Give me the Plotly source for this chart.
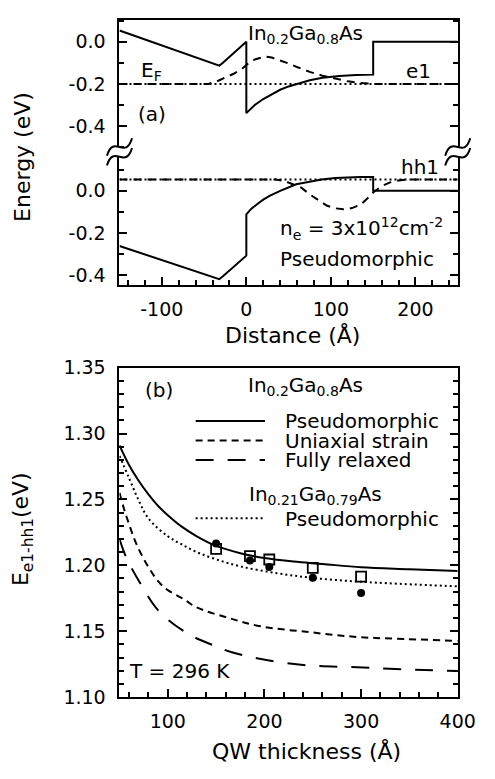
import plotly.graph_objects as go

W, H = 495, 779
FONT = "DejaVu Sans"

# ---------------- Panel (a) data ----------------
cb_x = [-150, -36, -32, -28, 0, 0, 5, 10, 20, 30, 40, 50, 60, 75, 90, 110, 130, 150, 150, 250]
cb_y = [0.054, -0.106, -0.113, -0.101, 0.0, -0.339, -0.318, -0.300, -0.272, -0.248, -0.228,
        -0.212, -0.199, -0.183, -0.171, -0.162, -0.158, -0.156, 0.0, 0.0]
e1_x = [-150, -45, -36, -25, -15, -5, 0, 10, 22, 30, 40, 50, 60, 75, 90, 105, 120, 135, 150, 250]
e1_y = [-0.2, -0.2, -0.19, -0.17, -0.152, -0.128, -0.11, -0.084, -0.07, -0.075, -0.088,
        -0.103, -0.12, -0.143, -0.161, -0.175, -0.188, -0.196, -0.2, -0.2]
ef_x = [-150, 250]
ef_y = [-0.2, -0.2]

vb_x = [-150, -36, -32, -28, 0, 0, 6, 13, 20, 28, 40, 59, 75, 89, 105, 119, 135, 150, 150, 250]
vb_y = [-0.262, -0.415, -0.42, -0.407, -0.308, -0.112, -0.085, -0.063, -0.042, -0.023, 0.0,
        0.031, 0.045, 0.054, 0.061, 0.065, 0.066, 0.066, 0.0, 0.0]
hh1_x = [-150, 35, 45, 55, 65, 75, 85, 95, 105, 115, 125, 135, 145, 150, 160, 170, 180, 190, 250]
hh1_y = [0.054, 0.054, 0.047, 0.032, 0.015, -0.017, -0.045, -0.07, -0.083, -0.088, -0.082,
         -0.066, -0.03, -0.008, 0.022, 0.04, 0.049, 0.054, 0.054]
hl_x = [-150, 250]
hl_y = [0.054, 0.054]

# ---------------- Panel (b) data ----------------
ps_x = [50, 60, 70, 80, 90, 100, 114, 130, 150, 176, 200, 230, 260, 300, 350, 400]
ps_y = [1.291, 1.276, 1.264, 1.2538, 1.245, 1.238, 1.2295, 1.222, 1.2147, 1.209, 1.2055,
        1.2028, 1.2010, 1.1985, 1.197, 1.1956]
ua_x = [50, 55, 60, 67, 80, 95, 117, 130, 163, 196, 246, 296, 345, 400]
ua_y = [1.255, 1.242, 1.231, 1.217, 1.1985, 1.184, 1.174, 1.168, 1.160, 1.1537, 1.1493,
        1.1456, 1.1441, 1.1426]
fr_x = [50, 57, 71, 91, 121, 148, 162, 195, 246, 296, 345, 400]
fr_y = [1.220, 1.206, 1.187, 1.165, 1.148, 1.139, 1.135, 1.129, 1.124, 1.1227, 1.121, 1.1198]
p21_x = [50, 60, 70, 80, 100, 114, 130, 150, 176, 213, 250, 300, 400]
p21_y = [1.283, 1.266, 1.249, 1.2355, 1.222, 1.216, 1.210, 1.2045, 1.199, 1.194, 1.1904,
         1.1875, 1.184]

sq_x = [150, 185, 205, 250, 300]
sq_y = [1.2125, 1.2069, 1.2044, 1.198, 1.1914]
dot_x = [150, 185, 205, 250, 300]
dot_y = [1.2165, 1.2037, 1.1988, 1.1906, 1.179]


def PX(x):
    return x / W


def PY(y):
    return 1 - y / H


fig = go.Figure()
LW = 2
K = "black"

fig.add_trace(go.Scatter(x=cb_x, y=cb_y, xaxis="x2", yaxis="y", mode="lines",
                         line=dict(color=K, width=LW)))
fig.add_trace(go.Scatter(x=ef_x, y=ef_y, xaxis="x2", yaxis="y", mode="lines",
                         line=dict(color=K, width=LW, dash="2px,3px")))
fig.add_trace(go.Scatter(x=e1_x, y=e1_y, xaxis="x2", yaxis="y", mode="lines",
                         line=dict(color=K, width=LW, dash="8px,6px")))

fig.add_trace(go.Scatter(x=vb_x, y=vb_y, xaxis="x", yaxis="y2", mode="lines",
                         line=dict(color=K, width=LW)))
fig.add_trace(go.Scatter(x=hl_x, y=hl_y, xaxis="x", yaxis="y2", mode="lines",
                         line=dict(color=K, width=LW, dash="2px,3px")))
fig.add_trace(go.Scatter(x=hh1_x, y=hh1_y, xaxis="x", yaxis="y2", mode="lines",
                         line=dict(color=K, width=LW, dash="8px,6px")))

fig.add_trace(go.Scatter(x=ps_x, y=ps_y, xaxis="x3", yaxis="y3", mode="lines",
                         line=dict(color=K, width=LW, shape="spline")))
fig.add_trace(go.Scatter(x=ua_x, y=ua_y, xaxis="x3", yaxis="y3", mode="lines",
                         line=dict(color=K, width=LW, dash="7px,5px", shape="spline")))
fig.add_trace(go.Scatter(x=fr_x, y=fr_y, xaxis="x3", yaxis="y3", mode="lines",
                         line=dict(color=K, width=LW, dash="18px,14px", shape="spline")))
fig.add_trace(go.Scatter(x=p21_x, y=p21_y, xaxis="x3", yaxis="y3", mode="lines",
                         line=dict(color=K, width=LW, dash="2px,3px", shape="spline")))
fig.add_trace(go.Scatter(x=sq_x, y=sq_y, xaxis="x3", yaxis="y3", mode="markers",
                         marker=dict(symbol="square-open", size=10, color=K, line=dict(width=1.8))))
fig.add_trace(go.Scatter(x=dot_x, y=dot_y, xaxis="x3", yaxis="y3", mode="markers",
                         marker=dict(symbol="circle", size=8, color=K)))

XD = [PX(124), PX(475)]
tickfont = dict(family=FONT, size=19, color=K)
common = dict(showline=True, linewidth=2, linecolor=K, ticks="inside", tickcolor=K,
              tickwidth=2, ticklen=8, tickfont=tickfont, showgrid=False, zeroline=False)
minor_t = dict(ticks="inside", ticklen=5, tickcolor=K, tickwidth=2)

fig.update_layout(
    width=W, height=H, margin=dict(l=0, r=0, t=0, b=0),
    paper_bgcolor="white", plot_bgcolor="white", showlegend=False,
    font=dict(family=FONT, color=K),
    xaxis=dict(domain=XD, anchor="y2", range=[-150, 250],
               tickvals=[-100, 0, 100, 200], ticktext=["-100", "0", "100", "200"],
               minor=dict(dtick=20, tick0=0, **minor_t),
               ticklabelstandoff=6, mirror=False, **common),
    xaxis2=dict(domain=XD, anchor="y", matches="x", side="top", showline=True, linewidth=2,
                linecolor=K, ticks="", showticklabels=False, showgrid=False, zeroline=False),
    yaxis=dict(domain=[PY(143), PY(9)], anchor="x2", range=[-0.514, 0.1048],
               tickvals=[0, -0.2, -0.4], ticktext=["0.0", "-0.2", "-0.4"],
               minor=dict(dtick=0.1, tick0=0, **minor_t),
               ticklabelstandoff=8, mirror="ticks", **common),
    yaxis2=dict(domain=[PY(282), PY(143)], anchor="x", range=[-0.4476, 0.194],
                tickvals=[0, -0.2, -0.4], ticktext=["0.0", "-0.2", "-0.4"],
                minor=dict(dtick=0.1, tick0=0, **minor_t),
                ticklabelstandoff=8, mirror="ticks", **common),
    xaxis3=dict(domain=XD, anchor="y3", range=[50, 400],
                tickvals=[100, 200, 300, 400], ticktext=["100", "200", "300", "400"],
                minor=dict(dtick=20, tick0=0, **minor_t),
                ticklabelstandoff=6, mirror=True, **common),
    yaxis3=dict(domain=[PY(706), PY(367)], anchor="x3", range=[1.10, 1.35],
                tickvals=[1.10, 1.15, 1.20, 1.25, 1.30, 1.35],
                ticktext=["1.10", "1.15", "1.20", "1.25", "1.30", "1.35"],
                minor=dict(dtick=0.01, tick0=0, **minor_t),
                ticklabelstandoff=8, mirror="ticks", **common),
)

ann = []


def text(s, x, y, size=20, xa="left", ya="middle", angle=0):
    ann.append(dict(text=s, x=PX(x), y=PY(y), xref="paper", yref="paper", showarrow=False,
                    xanchor=xa, yanchor=ya, textangle=angle,
                    font=dict(family=FONT, size=size, color=K)))


# panel (a) labels
text("In<sub>0.2</sub>Ga<sub>0.8</sub>As", 255, 8, ya="top")
text("E<sub>F</sub>", 144, 62)
text("e1", 419, 62)
text("(a)", 141, 106)
text("hh1", 414, 161)
text("n<sub>e</sub> = 3x10<sup>12</sup>cm<sup>-2</sup>", 288, 224)
text("Pseudomorphic", 288, 255)
text("Energy (eV)", 24, 150, size=22, xa="center", angle=-90)
text("Distance (Å)", 304, 333, size=22, xa="center")

# panel (b) labels
text("(b)", 148, 390)
text("In<sub>0.2</sub>Ga<sub>0.8</sub>As", 255, 386)
text("Pseudomorphic", 294, 422)
text("Uniaxial strain", 294, 442)
text("Fully relaxed", 294, 462)
text("In<sub>0.21</sub>Ga<sub>0.79</sub>As", 256, 498)
text("Pseudomorphic", 294, 523)
text("T = 296 K", 132, 679)
text("E<sub>e1-hh1</sub>(eV)", 24, 533, size=22, xa="center", angle=-90)
text("QW thickness (Å)", 318, 762, size=22, xa="center")

shapes = []
# legend samples
for yy, dash in [(422, "solid"), (442, "7px,5px"), (462, "18px,14px"), (522, "2px,3px")]:
    shapes.append(dict(type="line", xref="paper", yref="paper", x0=PX(203), x1=PX(275),
                       y0=PY(yy), y1=PY(yy), line=dict(color=K, width=LW, dash=dash)))


# axis-break squiggles
def wave_pts(cx, cy, off):
    return [(cx - 13, cy + 9 + off), (cx - 6, cy - 14 + off), (cx + 6, cy + 14 + off),
            (cx + 13, cy - 9 + off)]


def path_of(pts, rev=False):
    p = [(PX(a), PY(b)) for a, b in pts]
    if rev:
        p = p[::-1]
    return p


for cx in (124, 475):
    cy = 145
    a = path_of(wave_pts(cx, cy, -5))
    b = path_of(wave_pts(cx, cy, 5), rev=True)
    fill = ("M{:.5f},{:.5f} C{:.5f},{:.5f} {:.5f},{:.5f} {:.5f},{:.5f} L{:.5f},{:.5f} "
            "C{:.5f},{:.5f} {:.5f},{:.5f} {:.5f},{:.5f} Z").format(
        *a[0], *a[1], *a[2], *a[3], *b[0], *b[1], *b[2], *b[3])
    shapes.append(dict(type="path", xref="paper", yref="paper", path=fill,
                       fillcolor="white", line=dict(width=0)))
    for off in (-5, 5):
        q = path_of(wave_pts(cx, cy, off))
        shapes.append(dict(type="path", xref="paper", yref="paper",
                           path="M{:.5f},{:.5f} C{:.5f},{:.5f} {:.5f},{:.5f} {:.5f},{:.5f}".format(
                               *q[0], *q[1], *q[2], *q[3]),
                           line=dict(color=K, width=2)))

fig.update_layout(annotations=ann, shapes=shapes)
fig.write_html("out.html")
